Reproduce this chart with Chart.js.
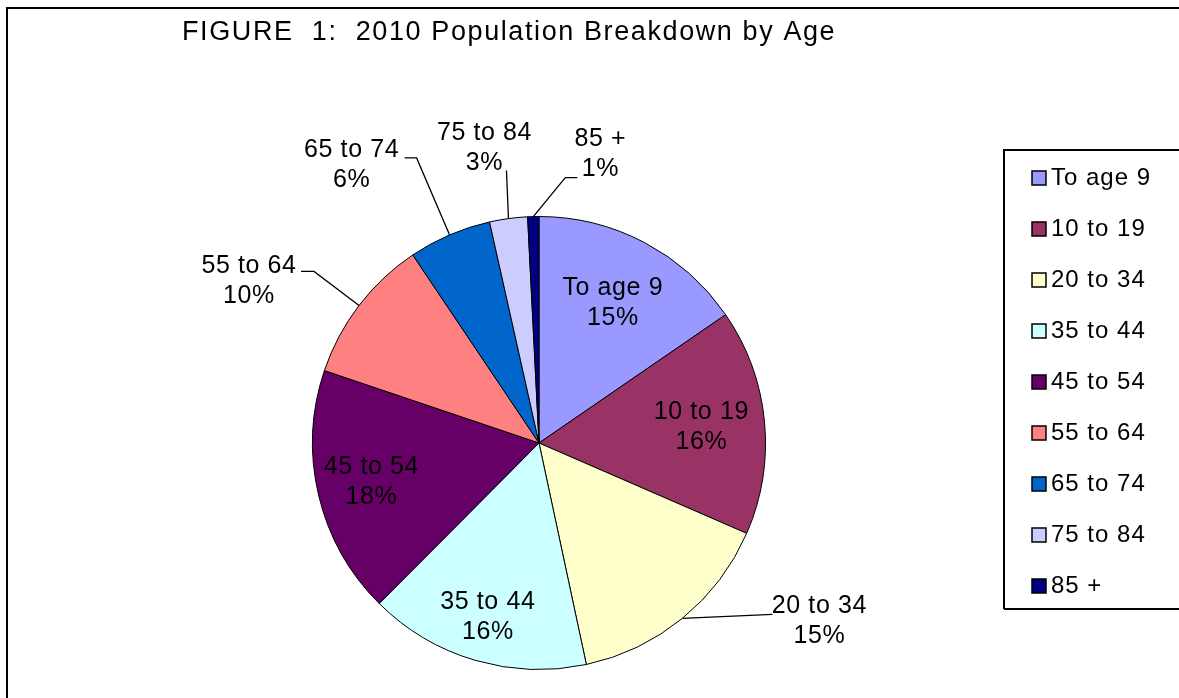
<!DOCTYPE html>
<html>
<head>
<meta charset="utf-8">
<script src="https://cdn.jsdelivr.net/npm/chart.js@4/dist/chart.umd.min.js"></script>
<style>
  html, body { margin: 0; padding: 0; background: #fff; overflow: hidden; }
  #wrapper { width: 1179px; height: 698px; position: relative; }
</style>
</head>
<body>
<div id="wrapper"><canvas id="chart"></canvas></div>
<script>
let titleText = "FIGURE  1:  2010 Population Breakdown by Age";
let ageGroups = ["To age 9", "10 to 19", "20 to 34", "35 to 44", "45 to 54", "55 to 64", "65 to 74", "75 to 84", "85 +"];
let shares = [15.4, 16.1, 15.1, 15.8, 17.7, 10.4, 5.9, 2.7, 0.8];
let sliceColors = ["#9999FF", "#993366", "#FFFFCC", "#CCFFFF", "#660066", "#FF8080", "#0066CC", "#CCCCFF", "#000080"];

const fontFamily = "'Liberation Sans', Arial, Helvetica, sans-serif";

// label placement: inside labels sit at a fraction of the radius,
// outside ones are offset from the slice edge and joined by a leader line
const insideAt = { 0: 0.70, 1: 0.72, 3: 0.80, 4: 0.76 };
const callouts = {
  2: { dx: 137, dy: 3, ax: -47, ay: -7, elbow: 0 },
  5: { dx: -110, dy: -24, ax: 52, ay: -10, elbow: 13 },
  6: { dx: -98, dy: -70, ax: 53, ay: -7, elbow: 12 },
  7: { dx: -24, dy: -70, ax: 22, ay: 22, elbow: 0 },
  8: { dx: 67, dy: -62, ax: -23, ay: 23, elbow: 12 },
};

function drawText(ctx, text, x, y, size, spacing, align) {
  ctx.font = size + "px " + fontFamily;
  ctx.letterSpacing = spacing + "px";
  ctx.textAlign = align || "center";
  ctx.textBaseline = "middle";
  ctx.fillStyle = "#000";
  ctx.fillText(text, x, y);
}

const figurePlugin = {
  id: "figure",
  afterDraw(chart) {
    let ctx = chart.ctx;
    ctx.save();

    // outer frame (runs off the right and bottom of the picture)
    ctx.strokeStyle = "#000";
    ctx.lineWidth = 2;
    ctx.beginPath();
    ctx.moveTo(7, 698);
    ctx.lineTo(7, 8);
    ctx.lineTo(1179, 8);
    ctx.stroke();

    // title
    drawText(ctx, titleText, 182, 33, 27, 1.6, "left");

    // data labels
    let meta = chart.getDatasetMeta(0);
    let total = shares.reduce((a, b) => a + b, 0);
    meta.data.forEach((arc, i) => {
      let p = arc.getProps(["x", "y", "startAngle", "endAngle", "outerRadius"], true);
      let mid = (p.startAngle + p.endAngle) / 2;
      let pct = Math.round((shares[i] / total) * 100) + "%";
      let cx, cy;
      if (insideAt[i] !== undefined) {
        cx = p.x + Math.cos(mid) * p.outerRadius * insideAt[i];
        cy = p.y + Math.sin(mid) * p.outerRadius * insideAt[i];
      } else {
        let c = callouts[i];
        let ex = p.x + Math.cos(mid) * p.outerRadius;
        let ey = p.y + Math.sin(mid) * p.outerRadius;
        cx = ex + c.dx;
        cy = ey + c.dy;
        let tx = cx + c.ax;
        let ty = cy + c.ay;
        ctx.strokeStyle = "#000";
        ctx.lineWidth = 1.3;
        ctx.beginPath();
        ctx.moveTo(ex, ey);
        if (c.elbow) {
          let side = ex < tx ? -1 : 1;
          ctx.lineTo(tx + side * c.elbow, ty);
        }
        ctx.lineTo(tx, ty);
        ctx.stroke();
      }
      drawText(ctx, ageGroups[i], cx, cy - 15, 25, 0.6);
      drawText(ctx, pct, cx, cy + 15, 25, 0.6);
    });

    // legend
    ctx.strokeStyle = "#000";
    ctx.lineWidth = 2;
    ctx.beginPath();
    ctx.moveTo(1004, 609);
    ctx.lineTo(1004, 150);
    ctx.lineTo(1180, 150);
    ctx.moveTo(1004, 609);
    ctx.lineTo(1180, 609);
    ctx.stroke();
    ageGroups.forEach((label, i) => {
      let y = 178 + i * 51;
      ctx.fillStyle = sliceColors[i];
      ctx.fillRect(1032, y - 7, 14, 14);
      ctx.lineWidth = 1.5;
      ctx.strokeStyle = "#000";
      ctx.strokeRect(1032, y - 7, 14, 14);
      drawText(ctx, label, 1051, y, 24, 1, "left");
    });

    ctx.restore();
  },
};

const config = {
  type: "pie",
  data: {
    labels: ageGroups,
    datasets: [
      {
        data: shares,
        backgroundColor: sliceColors,
        borderColor: "#000",
        borderWidth: 1,
      },
    ],
  },
  options: {
    responsive: true,
    maintainAspectRatio: false,
    animation: false,
    layout: {
      padding: { left: 312, top: 216, right: 413, bottom: 28 },
    },
    plugins: {
      legend: { display: false },
      title: { display: false },
      tooltip: { enabled: false },
    },
  },
  plugins: [figurePlugin],
};

let chart = new Chart(document.getElementById("chart"), config);
</script>
</body>
</html>
